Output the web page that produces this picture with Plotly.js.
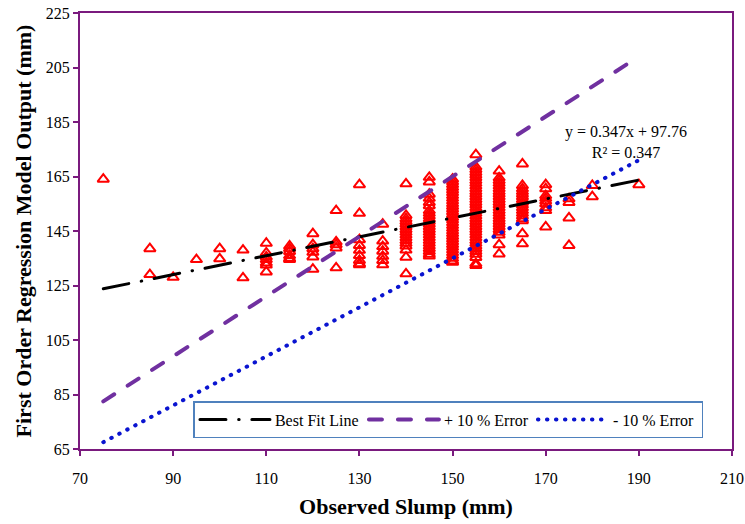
<!DOCTYPE html>
<html>
<head>
<meta charset="utf-8">
<script src="https://cdn.plot.ly/plotly-3.0.1.min.js"></script>
<style>
html,body{margin:0;padding:0;background:#fff;}
#chart{width:745px;height:524px;}
path.js-line{stroke-linecap:round !important;}
</style>
</head>
<body>
<div id="chart"></div>
<script>
// Observed slump levels (mm)
const slumpLevels = [75, 85, 90, 95, 100, 105, 110, 115, 120, 125, 130, 135, 140, 145, 150, 155, 160, 165, 170, 175, 180, 190];
// Model output values at each observed slump level (mm)
const out75 = [164];
const out85 = [138.5, 129];
const out90 = [128];
const out95 = [134.5];
const out100 = [138.5, 134.8];
const out105 = [138, 127.8];
const out110 = [140.5, 137, 135.5, 134.5, 133.3, 132.5, 130];
const out115 = [139.5, 138.5, 137.5, 136, 135, 134.5];
const out120 = [144, 140, 138.5, 137.2, 135.5, 131];
const out125 = [152.5, 141, 140, 138.8, 131.5];
const out130 = [162, 151.5, 141.8, 139.7, 137.9, 136, 134.2, 133, 132.6];
const out135 = [147.5, 141.3, 139.3, 137.6, 135.7, 134.2, 132.6];
const out140 = [162.3, 150.7, 149.5, 148.5, 147.5, 146.5, 145.5, 144.5, 143.5, 142.5, 141.5, 140.5, 139.5, 138, 135.4, 129.3];
const out145 = [164.7, 163, 158.5, 157, 155.5, 154.3, 152.5, 151.5, 150.5, 149.5, 148.5, 147.5, 146.5, 145.5, 144.5, 143.5, 142.5, 141.5, 140.5, 139.5, 138.5, 137.5, 136.5, 135.8];
const out150 = [164, 163, 162, 161, 160, 159, 158, 157, 156, 155, 154, 153, 152, 151, 150, 149, 148, 147, 146, 145, 144, 143, 142, 141, 140, 139, 138, 137, 136, 135, 134, 133.5];
const out155 = [173, 168.5, 167.5, 166.5, 165.5, 164.5, 163.5, 162.5, 161.5, 160.5, 159.5, 158.5, 157.5, 156.5, 155.5, 154.5, 153.5, 152.5, 151.5, 150.5, 149.5, 148.5, 147.5, 146.5, 145.5, 144.5, 143.5, 142.5, 141.5, 140.5, 139.5, 138.5, 137.5, 136.5, 135.3, 133, 132.3];
const out160 = [167, 164.5, 163.5, 162.5, 161.5, 160.5, 159.5, 158.5, 157.5, 156.5, 155.5, 154.5, 153.5, 152.5, 151.5, 150.5, 149.5, 148.5, 147.5, 146.5, 145.5, 144.5, 143.5, 140, 136.6];
const out165 = [169.6, 161.7, 160.5, 159.5, 158.5, 157.5, 156.5, 155.5, 154.5, 153.5, 152.5, 151.5, 150.5, 149.5, 148.8, 144, 140.3];
const out170 = [162, 160.5, 158, 157, 156, 155, 153.5, 152.5, 146.5];
const out175 = [156.8, 155.5, 149.8, 139.7];
const out180 = [161.7, 157.6];
const out190 = [162];
const outputsByLevel = [out75, out85, out90, out95, out100, out105, out110, out115, out120, out125, out130, out135, out140, out145, out150, out155, out160, out165, out170, out175, out180, out190];

// Reference lines
const lineX = [75, 190];
const fitSlope = 0.347, fitIntercept = 97.76;
const plusErr = 1.10, minusErr = 0.90;

// Tick labels
const xTicks = [70, 90, 110, 130, 150, 170, 190, 210];
const yTicks = [65, 85, 105, 125, 145, 165, 185, 205, 225];

const obsX = [], obsY = [];
slumpLevels.forEach((s, i) => outputsByLevel[i].forEach(v => { obsX.push(s); obsY.push(v); }));

const purple = '#7a1a7e';
const font = 'Liberation Serif, Times New Roman, serif';

const traces = [
  {x: obsX, y: obsY, type: 'scatter', mode: 'markers', showlegend: false, cliponaxis: false,
   marker: {symbol: 'triangle-up-open', size: 10, color: '#ff0000', line: {width: 2, color: '#ff0000'}}},
  {x: lineX, y: lineX.map(v => fitSlope * v + fitIntercept), type: 'scatter', mode: 'lines', name: 'Best Fit Line',
   line: {color: '#000000', width: 3, dash: '26px,12.7px,0.5px,12.7px'}},
  {x: lineX, y: lineX.map(v => plusErr * v), type: 'scatter', mode: 'lines', name: '+ 10 % Error',
   line: {color: '#7030a0', width: 4, dash: '13px,16px'}},
  {x: lineX, y: lineX.map(v => minusErr * v), type: 'scatter', mode: 'lines', name: '- 10 % Error',
   line: {color: '#0a14d0', width: 4, dash: '0.5px,8.5px'}}
];

const layout = {
  width: 745, height: 524,
  margin: {l: 80, r: 13, t: 13, b: 75},
  paper_bgcolor: '#ffffff', plot_bgcolor: '#ffffff',
  font: {family: font, size: 16, color: '#000'},
  xaxis: {range: [70, 210], tickvals: xTicks, ticktext: xTicks.map(String), showgrid: false, zeroline: false,
    showline: true, linecolor: purple, linewidth: 2, mirror: true,
    ticks: 'outside', ticklen: 5, tickwidth: 2, tickcolor: purple, ticklabeloverflow: 'allow',
    tickfont: {family: font, size: 16, color: '#000'}, ticklabelstandoff: 9,
    title: {text: '<b>Observed Slump (mm)</b>', font: {family: font, size: 22, color: '#000'}, standoff: 12}},
  yaxis: {range: [65, 225], tickvals: yTicks, ticktext: yTicks.map(String), showgrid: false, zeroline: false,
    showline: true, linecolor: purple, linewidth: 2, mirror: true,
    ticks: 'outside', ticklen: 5, tickwidth: 2, tickcolor: purple, ticklabeloverflow: 'allow',
    tickfont: {family: font, size: 16, color: '#000'},
    title: {text: '<b>First Order Regression Model Output (mm)</b>', font: {family: font, size: 22, color: '#000'}, standoff: 8}},
  legend: {orientation: 'h', x: 0.174, y: 0.11, xanchor: 'left', yanchor: 'top',
    bgcolor: '#ffffff', bordercolor: '#4f81bd', borderwidth: 1.5,
    font: {family: font, size: 16, color: '#000'}, itemwidth: 70, entrywidth: 84, tracegroupgap: 0},
  annotations: [{x: 187.2, y: 177.7, xref: 'x', yref: 'y', showarrow: false, align: 'center',
    text: 'y = 0.347x + 97.76<br>R² = 0.347', font: {family: font, size: 16, color: '#000'}}]
};

Plotly.newPlot('chart', traces, layout, {displayModeBar: false, staticPlot: true});
</script>
</body>
</html>
